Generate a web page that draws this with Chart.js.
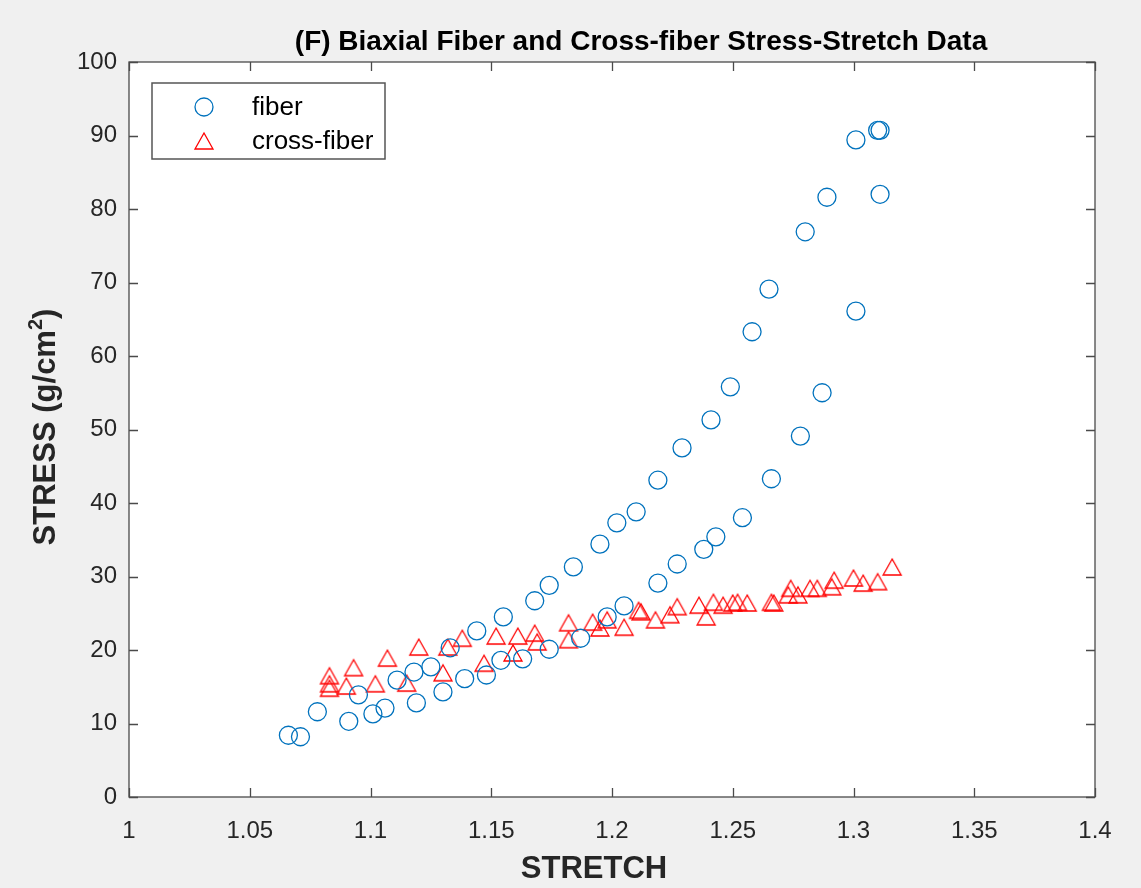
<!DOCTYPE html>
<html>
<head>
<meta charset="utf-8">
<script src="https://cdn.jsdelivr.net/npm/chart.js@4/dist/chart.umd.min.js"></script>
<style>
  html, body { margin: 0; padding: 0; background: #f0f0f0; }
  #wrap { width: 1141px; height: 888px; }
</style>
</head>
<body>
<div id="wrap"><canvas id="chart" width="1141" height="888"></canvas></div>
<script>
// fiber direction data (stretch, stress g/cm^2)
const fiberStretch = [1.066, 1.071, 1.078, 1.091, 1.095, 1.101, 1.106, 1.111, 1.118, 1.119,
  1.125, 1.130, 1.133, 1.139, 1.144, 1.148, 1.154, 1.155, 1.163, 1.168,
  1.174, 1.174, 1.184, 1.187, 1.195, 1.198, 1.202, 1.205, 1.210, 1.219,
  1.219, 1.227, 1.229, 1.238, 1.243, 1.241, 1.249, 1.254, 1.258, 1.265,
  1.266, 1.278, 1.280, 1.287, 1.289, 1.301, 1.301, 1.310, 1.311, 1.311];
const fiberStress = [8.4, 8.2, 11.6, 10.3, 13.9, 11.3, 12.1, 15.9, 17.0, 12.8,
  17.7, 14.3, 20.3, 16.1, 22.6, 16.6, 18.6, 24.5, 18.8, 26.7,
  28.8, 20.1, 31.3, 21.6, 34.4, 24.5, 37.3, 26.0, 38.8, 29.1,
  43.1, 31.7, 47.5, 33.7, 35.4, 51.3, 55.8, 38.0, 63.3, 69.1,
  43.3, 49.1, 76.9, 55.0, 81.6, 66.1, 89.4, 90.7, 90.7, 82.0];

// cross-fiber direction data
const crossStretch = [1.083, 1.083, 1.083, 1.090, 1.093, 1.102, 1.107, 1.115, 1.120, 1.130,
  1.132, 1.138, 1.147, 1.152, 1.159, 1.161, 1.168, 1.169, 1.182, 1.182,
  1.192, 1.195, 1.198, 1.205, 1.211, 1.212, 1.218, 1.224, 1.227, 1.236,
  1.239, 1.242, 1.246, 1.250, 1.252, 1.256, 1.266, 1.267, 1.273, 1.274,
  1.277, 1.282, 1.285, 1.291, 1.292, 1.300, 1.304, 1.310, 1.316];
const crossStress = [16.5, 15.4, 14.8, 15.1, 17.6, 15.4, 18.9, 15.5, 20.4, 16.9,
  20.4, 21.6, 18.2, 21.9, 19.6, 21.9, 22.3, 21.1, 23.7, 21.4,
  23.8, 23.0, 24.1, 23.1, 25.4, 25.2, 24.1, 24.8, 25.9, 26.1,
  24.5, 26.5, 26.1, 26.4, 26.5, 26.4, 26.5, 26.4, 27.5, 28.4,
  27.5, 28.4, 28.4, 28.6, 29.5, 29.8, 29.1, 29.3, 31.3];

const xTicks = [1, 1.05, 1.1, 1.15, 1.2, 1.25, 1.3, 1.35, 1.4];
const yTicks = [0, 10, 20, 30, 40, 50, 60, 70, 80, 90, 100];

const FONT = '"Liberation Sans", Arial, Helvetica, sans-serif';
const AXIS_COLOR = '#4a4a4a';
const TEXT_COLOR = '#262626';
const BLUE = '#0072BD';
const RED = '#FF0000';

const toPoints = (xs, ys) => xs.map((x, i) => ({ x: x, y: ys[i] }));

// MATLAB-style '^' marker: centred on its bounding box, not its centroid
function makeTriangle(w, h, color, lw) {
  const c = document.createElement('canvas');
  c.width = w + 4;
  c.height = h + 4;
  const g = c.getContext('2d');
  g.strokeStyle = color;
  g.lineWidth = lw;
  g.lineJoin = 'miter';
  g.beginPath();
  g.moveTo(c.width / 2, 2);
  g.lineTo(w + 2, h + 2);
  g.lineTo(2, h + 2);
  g.closePath();
  g.stroke();
  return c;
}
const triMarker = makeTriangle(18, 16, RED, 1.3);

// white plot area, inward ticks on all four sides, box, titles and legend
const matlabLook = {
  id: 'matlabLook',
  beforeDraw(chart) {
    const { ctx, chartArea: a } = chart;
    ctx.save();
    ctx.fillStyle = '#ffffff';
    ctx.fillRect(a.left, a.top, a.right - a.left, a.bottom - a.top);
    ctx.restore();
  },
  afterDraw(chart) {
    const { ctx, chartArea: a } = chart;
    const xs = chart.scales.x, ys = chart.scales.y;
    const tl = 9;
    ctx.save();
    ctx.strokeStyle = AXIS_COLOR;
    ctx.lineWidth = 1.3;
    ctx.beginPath();
    xTicks.forEach(v => {
      const px = Math.round(xs.getPixelForValue(v)) + 0.5;
      ctx.moveTo(px, a.bottom); ctx.lineTo(px, a.bottom - tl);
      ctx.moveTo(px, a.top); ctx.lineTo(px, a.top + tl);
    });
    yTicks.forEach(v => {
      const py = Math.round(ys.getPixelForValue(v)) + 0.5;
      ctx.moveTo(a.left, py); ctx.lineTo(a.left + tl, py);
      ctx.moveTo(a.right, py); ctx.lineTo(a.right - tl, py);
    });
    ctx.stroke();
    ctx.strokeRect(a.left, a.top, a.right - a.left, a.bottom - a.top);

    // title
    ctx.fillStyle = '#000000';
    ctx.font = 'bold 28px ' + FONT;
    ctx.textAlign = 'center';
    ctx.textBaseline = 'middle';
    ctx.fillText('(F) Biaxial Fiber and Cross-fiber Stress-Stretch Data', 641, 42);

    // x axis label
    ctx.fillStyle = TEXT_COLOR;
    ctx.font = 'bold 31px ' + FONT;
    ctx.fillText('STRETCH', 594, 869);

    // y axis label with superscript
    ctx.save();
    ctx.translate(46, 427);
    ctx.rotate(-Math.PI / 2);
    ctx.textAlign = 'left';
    const main = 'STRESS (g/cm', sup = '2', close = ')';
    ctx.font = 'bold 31px ' + FONT;
    const w1 = ctx.measureText(main).width, w3 = ctx.measureText(close).width;
    ctx.font = 'bold 20px ' + FONT;
    const w2 = ctx.measureText(sup).width;
    let sx = -(w1 + w2 + w3) / 2;
    ctx.font = 'bold 31px ' + FONT;
    ctx.fillText(main, sx, 0);
    ctx.font = 'bold 20px ' + FONT;
    ctx.fillText(sup, sx + w1, -10);
    ctx.font = 'bold 31px ' + FONT;
    ctx.fillText(close, sx + w1 + w2, 0);
    ctx.restore();

    // legend
    const lx = 152, ly = 83, lw = 233, lh = 76;
    ctx.fillStyle = '#ffffff';
    ctx.fillRect(lx, ly, lw, lh);
    ctx.strokeStyle = '#555555';
    ctx.lineWidth = 1.5;
    ctx.strokeRect(lx, ly, lw, lh);

    ctx.lineWidth = 1.3;
    ctx.strokeStyle = BLUE;
    ctx.beginPath();
    ctx.arc(204, 107, 9, 0, Math.PI * 2);
    ctx.stroke();
    ctx.drawImage(triMarker, 204 - triMarker.width / 2, 141 - triMarker.height / 2);

    ctx.fillStyle = '#000000';
    ctx.font = '26px ' + FONT;
    ctx.textAlign = 'left';
    ctx.textBaseline = 'middle';
    ctx.fillText('fiber', 252, 108);
    ctx.fillText('cross-fiber', 252, 142);
    ctx.restore();
  }
};

const ctx = document.getElementById('chart').getContext('2d');
new Chart(ctx, {
  type: 'scatter',
  data: {
    datasets: [
      {
        label: 'fiber',
        data: toPoints(fiberStretch, fiberStress),
        pointStyle: 'circle',
        pointRadius: 9,
        pointBorderWidth: 1.3,
        borderColor: BLUE,
        backgroundColor: 'rgba(0,0,0,0)',
      },
      {
        label: 'cross-fiber',
        data: toPoints(crossStretch, crossStress),
        pointStyle: triMarker,
        pointRadius: 9,
        borderColor: RED,
        backgroundColor: 'rgba(0,0,0,0)',
      },
    ],
  },
  options: {
    responsive: false,
    animation: false,
    events: [],
    layout: { padding: { left: 0, right: 46, top: 62, bottom: 0 } },
    plugins: {
      legend: { display: false },
      title: { display: false },
      tooltip: { enabled: false },
    },
    scales: {
      x: {
        type: 'linear',
        min: 1,
        max: 1.4,
        afterBuildTicks: scale => { scale.ticks = xTicks.map(v => ({ value: v })); },
        afterFit: scale => { scale.height = 91; },
        grid: { display: false },
        border: { display: false },
        ticks: {
          color: TEXT_COLOR,
          padding: 12,
          font: { family: FONT, size: 24 },
          callback: v => String(parseFloat(Number(v).toFixed(2))),
          maxRotation: 0,
        },
        title: { display: false },
      },
      y: {
        type: 'linear',
        min: 0,
        max: 100,
        afterBuildTicks: scale => { scale.ticks = yTicks.map(v => ({ value: v })); },
        afterFit: scale => { scale.width = 129; },
        grid: { display: false },
        border: { display: false },
        ticks: {
          color: TEXT_COLOR,
          padding: 4,
          font: { family: FONT, size: 24 },
        },
        title: { display: false },
      },
    },
  },
  plugins: [matlabLook],
});
</script>
</body>
</html>
